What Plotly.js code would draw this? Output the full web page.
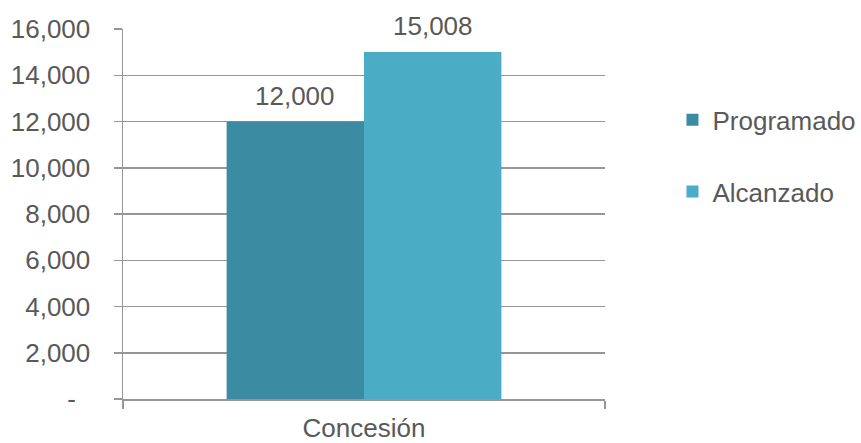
<!DOCTYPE html>
<html>
<head>
<meta charset="utf-8">
<script src="https://cdn.plot.ly/plotly-3.0.1.min.js"></script>
<style>html,body{margin:0;padding:0;background:#fff;}#chart{width:861px;height:443px;}</style>
</head>
<body>
<div id="chart"></div>
<script>
const categories = ["Concesión"];
const seriesNames = ["Programado", "Alcanzado"];
const programado = [12000];
const alcanzado = [15008];
const yTickVals = [0, 2000, 4000, 6000, 8000, 10000, 12000, 14000, 16000];
const yTickText = ["-\u00a0\u00a0", "2,000", "4,000", "6,000", "8,000", "10,000", "12,000", "14,000", "16,000"];

const colors = ["#3B8BA3", "#4BACC6"];
const textColor = "#595959";
const fontFam = '"Liberation Sans", Arial, sans-serif';
const fs = 26;
const bargap = 0.43;

const seriesVals = [programado, alcanzado];
const fmt = v => v.toLocaleString("en-US");

const traces = seriesVals.map((vals, j) => ({
  type: "bar",
  name: seriesNames[j],
  x: categories,
  y: vals,
  marker: {color: colors[j], line: {width: 0}},
  legendgroup: "g" + j,
  hoverinfo: "skip"
}));

const barW = (1 - bargap) / seriesVals.length;
const annotations = [];
seriesVals.forEach((vals, j) => {
  vals.forEach((v, i) => {
    annotations.push({
      x: i + (j - (seriesVals.length - 1) / 2) * barW,
      y: v,
      xref: "x", yref: "y",
      text: fmt(v),
      showarrow: false,
      yanchor: "middle",
      yshift: 26,
      font: {family: fontFam, size: fs, color: textColor}
    });
  });
});

const layout = {
  width: 861, height: 443,
  margin: {l: 123, r: 256, t: 29, b: 44, autoexpand: false},
  paper_bgcolor: "#fff", plot_bgcolor: "#fff",
  barmode: "group",
  bargap: bargap,
  bargroupgap: 0,
  font: {family: fontFam, size: fs, color: textColor},
  xaxis: {
    type: "category",
    showgrid: false,
    showline: true, linecolor: "#969696", linewidth: 1.5,
    ticks: "outside", tickson: "boundaries", ticklen: 8, tickcolor: "#969696", tickwidth: 1.5,
    tickfont: {family: fontFam, size: fs, color: textColor},
    ticklabelstandoff: 5,
    automargin: false,
    zeroline: false
  },
  yaxis: {
    range: [0, 16000],
    tickvals: yTickVals, ticktext: yTickText,
    showgrid: true, gridcolor: "#969696", gridwidth: 1.5,
    showline: true, linecolor: "#969696", linewidth: 1.5,
    ticks: "outside", ticklen: 8, tickcolor: "#969696", tickwidth: 1.5,
    tickfont: {family: fontFam, size: fs, color: textColor},
    ticklabelstandoff: 18,
    automargin: false,
    zeroline: false,
    fixedrange: true
  },
  showlegend: true,
  legend: {
    x: 1.14, xanchor: "left",
    y: 0.818, yanchor: "top",
    tracegroupgap: 35,
    font: {family: fontFam, size: fs, color: textColor},
    bgcolor: "rgba(0,0,0,0)"
  },
  annotations: annotations
};

Plotly.newPlot("chart", traces, layout, {displayModeBar: false, staticPlot: true});
</script>
</body>
</html>
